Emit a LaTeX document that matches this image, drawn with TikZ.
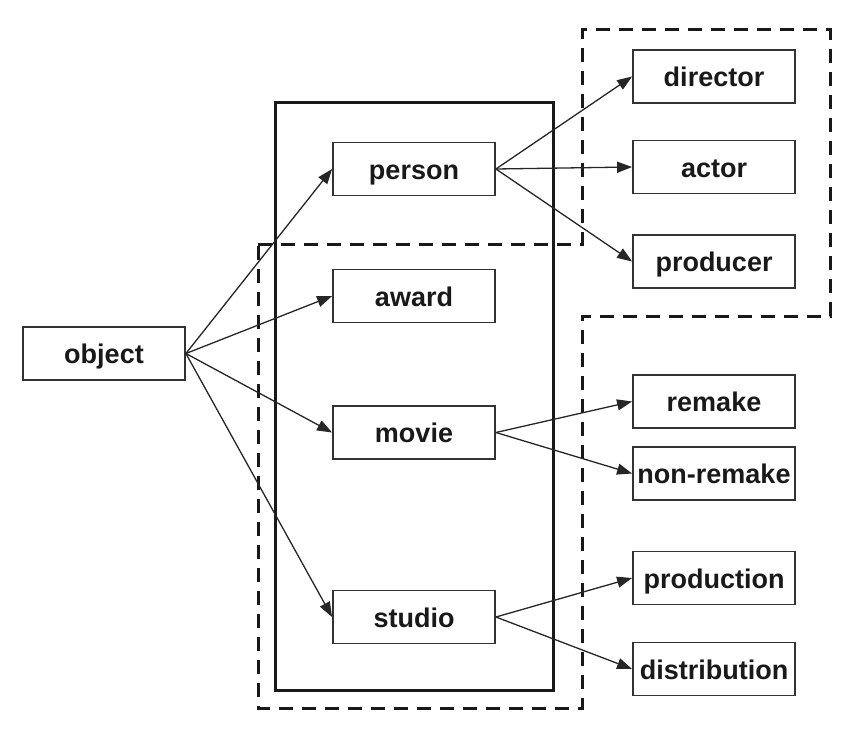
\documentclass[tikz,border=0pt]{standalone}
\usepackage{fontspec}
\setmainfont{Liberation Sans}
\usetikzlibrary{arrows.meta}
\begin{document}
\begin{tikzpicture}[x=1pt,y=-1pt,
  cls/.style={draw=black!80,line width=1.8pt,fill=white,minimum width=162pt,minimum height=53pt,inner sep=0pt,
    text height=20pt,text depth=0pt,
    font=\fontsize{27}{30}\selectfont\bfseries,text=black!90},
  link/.style={line width=1.3pt,draw=black!85,-{Triangle[length=15pt,width=11pt]}},
  group/.style={line width=3pt,draw=black!90},
  dgroup/.style={line width=3pt,draw=black!90,dash pattern=on 14pt off 9pt}]
\useasboundingbox (0,0) rectangle (850,738);
% containers
\draw[group] (275,103) rectangle (553,690);
\draw[dgroup] (258,244) -- (582,244) -- (582,30) -- (830,30) -- (830,316) -- (582,316) -- (582,708) -- (258,708) -- cycle;
% nodes
\node[cls] (object) at (104,353.5) {object};
\node[cls] (person) at (414,169) {person};
\node[cls] (award) at (414,296) {award};
\node[cls] (movie) at (414,432.5) {movie};
\node[cls] (studio) at (414,617) {studio};
\node[cls] (director) at (714,76.5) {director};
\node[cls] (actor) at (714,167) {actor};
\node[cls] (producer) at (714,261.5) {producer};
\node[cls] (remake) at (714,401.5) {remake};
\node[cls] (nonremake) at (714,473.5) {non-remake};
\node[cls] (production) at (714,578) {production};
\node[cls] (distribution) at (714,669) {distribution};
% connectors
\foreach \t in {person,award,movie,studio} \draw[link] (object.east) -- (\t.west);
\foreach \t in {director,actor,producer} \draw[link] (person.east) -- (\t.west);
\foreach \t in {remake,nonremake} \draw[link] (movie.east) -- (\t.west);
\foreach \t in {production,distribution} \draw[link] (studio.east) -- (\t.west);
\end{tikzpicture}
\end{document}
